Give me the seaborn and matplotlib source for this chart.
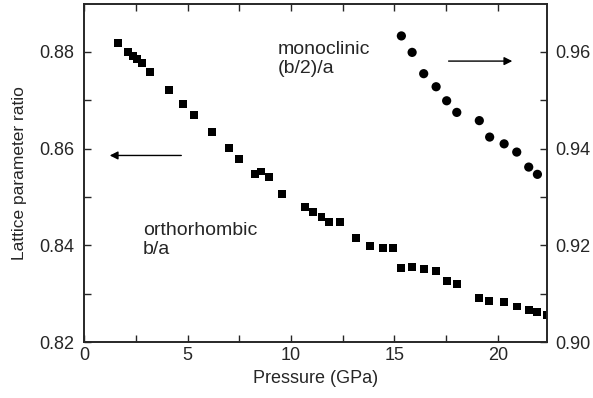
import pandas as pd
import seaborn as sns
import matplotlib.pyplot as plt
from matplotlib.ticker import MultipleLocator

# orthorhombic b/a (left axis)
p_ortho = [1.62, 2.13, 2.34, 2.57, 2.79, 3.19, 4.10, 4.79, 5.29, 6.19, 6.99, 7.50,
           8.27, 8.56, 8.95, 9.56, 10.68, 11.08, 11.48, 11.85, 12.37, 13.14, 13.82,
           14.44, 14.95, 15.34, 15.84, 16.43, 17.02, 17.53, 18.02, 19.11, 19.59,
           20.31, 20.92, 21.50, 21.92, 22.37]
ratio_ortho = [0.8818, 0.8799, 0.8792, 0.8786, 0.8777, 0.8759, 0.8722, 0.8693,
               0.8669, 0.8634, 0.8601, 0.8578, 0.8548, 0.8553, 0.8542, 0.8507,
               0.8479, 0.8469, 0.8458, 0.8449, 0.8449, 0.8416, 0.8399, 0.8395,
               0.8395, 0.8354, 0.8355, 0.8352, 0.8348, 0.8327, 0.8321, 0.8291,
               0.8286, 0.8284, 0.8274, 0.8266, 0.8263, 0.8256]

# monoclinic (b/2)/a (right axis)
p_mono = [15.34, 15.86, 16.42, 17.02, 17.53, 18.02, 19.11, 19.61, 20.31, 20.92,
          21.50, 21.92]
ratio_mono = [0.9633, 0.9599, 0.9555, 0.9528, 0.9499, 0.9475, 0.9458, 0.9424,
              0.9410, 0.9393, 0.9362, 0.9347]

df_o = pd.DataFrame({'p': p_ortho, 'r': ratio_ortho})
df_m = pd.DataFrame({'p': p_mono, 'r': ratio_mono})

sns.set_style('ticks')
plt.rcParams['font.family'] = ['Liberation Sans', 'DejaVu Sans']
fs = 13

fig = plt.figure(figsize=(5.93, 3.98), dpi=100)
ax = fig.add_axes([0.142, 0.140, 0.781, 0.850])
ax2 = ax.twinx()

sns.scatterplot(data=df_o, x='p', y='r', ax=ax, marker='s', s=32,
                color='black', edgecolor='none')
sns.scatterplot(data=df_m, x='p', y='r', ax=ax2, marker='o', s=44,
                color='black', edgecolor='none')

ax.set_xlim(0, 22.4)
ax.set_ylim(0.82, 0.8899)
ax2.set_ylim(0.90, 0.9699)

ax.xaxis.set_major_locator(MultipleLocator(5))
ax.xaxis.set_minor_locator(MultipleLocator(2.5))
ax.yaxis.set_major_locator(MultipleLocator(0.02))
ax.yaxis.set_minor_locator(MultipleLocator(0.01))
ax2.yaxis.set_major_locator(MultipleLocator(0.02))
ax2.yaxis.set_minor_locator(MultipleLocator(0.01))
ax.yaxis.set_major_formatter(plt.FormatStrFormatter('%.2f'))
ax2.yaxis.set_major_formatter(plt.FormatStrFormatter('%.2f'))

ax.tick_params(which='both', direction='in', top=True, right=False,
               labelsize=fs, width=1, length=5)
ax.tick_params(axis='y', pad=7)
ax2.tick_params(which='both', direction='in', labelsize=fs, width=1, length=5,
                pad=6)

for a in (ax, ax2):
    for sp in a.spines.values():
        sp.set_linewidth(1.2)
        sp.set_visible(True)

ax.set_xlabel('Pressure (GPa)', fontsize=fs, labelpad=4)
ax.set_ylabel('Lattice parameter ratio', fontsize=12.5, labelpad=9)
ax2.set_ylabel('')

ax.text(2.83, 0.8449, 'orthorhombic\nb/a', fontsize=14, va='top', ha='left',
        linespacing=1.2)
ax.text(9.37, 0.8823, 'monoclinic\n(b/2)/a', fontsize=14, va='top', ha='left',
        linespacing=1.2)

arrow = dict(arrowstyle='-|>', color='black', lw=1.0, mutation_scale=12)
ax.annotate('', xy=(1.10, 0.8586), xytext=(4.83, 0.8586), arrowprops=arrow)
ax.annotate('', xy=(20.84, 0.8781), xytext=(17.49, 0.8781), arrowprops=arrow)

fig.savefig('out.png', dpi=100)
